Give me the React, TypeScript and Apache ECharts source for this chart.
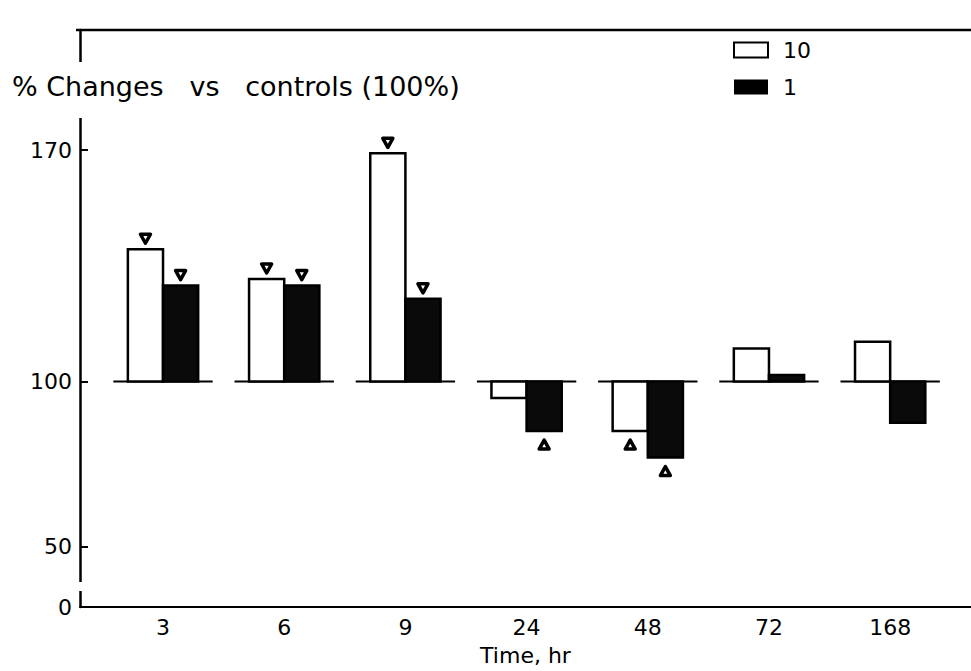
import React, { useEffect, useRef } from 'react';
import * as echarts from 'echarts';

// ---- data ----
const categories = ['3', '6', '9', '24', '48', '72', '168'];
const dose10 = [140, 131, 169, 95, 85, 110, 112];
const dose1 = [129, 129, 125, 85, 77, 102, 87.5];
const sig10 = [1, 1, 1, 0, 1, 0, 0];
const sig1 = [1, 1, 1, 1, 1, 0, 0];
const yTickValues = [50, 100, 170];
const yBreakLabel = '0';
const BASE = 100;

// ---- layout ----
const W = 971;
const H = 671;
const GL = 80;
const GT = 30;
const GB = 55;
const X_MIN = -0.685;
const X_MAX = 6.667;
const Y_MIN = 31.8;
const Y_MAX = 206.3;
const FONT = 'DejaVu Sans';

function barRenderer(side: number, fill: string) {
  return (params: any, api: any) => {
    const i = api.value(0);
    const v = api.value(1);
    const m = api.value(2);
    const band = api.size([1, 0])[0];
    const w = band * 0.29;
    const p0 = api.coord([i, BASE]);
    const p1 = api.coord([i, v]);
    const cx = p0[0] + (side * w) / 2;
    const y0 = Math.min(p0[1], p1[1]);
    const h = Math.abs(p1[1] - p0[1]);
    const children: any[] = [
      {
        type: 'rect',
        shape: { x: cx - w / 2, y: y0, width: w, height: h },
        style: { fill, stroke: '#000', lineWidth: 2.5 },
      },
    ];
    if (m) {
      const up = v < BASE;
      const s = 5;
      const ty = up ? p1[1] + 14 : p1[1] - 11;
      const pts = up
        ? [[cx - s, ty + 4], [cx + s, ty + 4], [cx, ty - 5]]
        : [[cx - s, ty - 4], [cx + s, ty - 4], [cx, ty + 5]];
      children.push({
        type: 'polygon',
        shape: { points: pts },
        style: { fill: '#fff', stroke: '#000', lineWidth: 3.5, lineJoin: 'round' },
      });
    }
    return { type: 'group', children };
  };
}

function baseRenderer(params: any, api: any) {
  const i = api.value(0);
  const band = api.size([1, 0])[0];
  const p = api.coord([i, BASE]);
  return {
    type: 'line',
    shape: { x1: p[0] - band * 0.41, y1: p[1], x2: p[0] + band * 0.41, y2: p[1] },
    style: { stroke: '#000', lineWidth: 2 },
  };
}

export default function App() {
  const ref = useRef<HTMLDivElement>(null);
  useEffect(() => {
    if (!ref.current) return;
    const chart = echarts.init(ref.current, null, { renderer: 'svg' });
    const idx = categories.map((_, i) => i);
    const axisY = H - GB;
    chart.setOption({
      animation: false,
      backgroundColor: '#fff',
      textStyle: { fontFamily: FONT, color: '#000' },
      grid: { left: GL, top: GT, right: 0, bottom: GB, containLabel: false },
      legend: {
        orient: 'vertical',
        left: 728,
        top: 34,
        itemWidth: 34,
        itemHeight: 15,
        itemGap: 15,
        textStyle: { fontSize: 22, color: '#000', fontFamily: FONT, padding: [0, 0, 0, 10] },
        data: [
          { name: '10', icon: 'rect', itemStyle: { color: '#fff', borderColor: '#000', borderWidth: 2 } },
          { name: '1', icon: 'rect', itemStyle: { color: '#000', borderColor: '#000', borderWidth: 0 } },
        ],
      },
      xAxis: {
        type: 'value',
        min: X_MIN,
        max: X_MAX,
        axisLine: { show: true, onZero: false, lineStyle: { color: '#000', width: 2 } },
        axisTick: { show: false },
        splitLine: { show: false },
        axisLabel: {
          customValues: idx,
          formatter: (v: number) => categories[Math.round(v)] ?? '',
          fontSize: 22,
          color: '#000',
          fontFamily: FONT,
          margin: 9,
        },
        name: 'Time, hr',
        nameLocation: 'middle',
        nameGap: 37,
        nameTextStyle: { fontSize: 22, color: '#000', fontFamily: FONT },
      },
      yAxis: {
        type: 'value',
        min: Y_MIN,
        max: Y_MAX,
        axisLine: { show: true, onZero: false, lineStyle: { color: '#000', width: 2.5 } },
        axisTick: { show: true, inside: true, length: 8, customValues: yTickValues, lineStyle: { color: '#000', width: 2 } },
        splitLine: { show: false },
        axisLabel: {
          customValues: [Y_MIN, ...yTickValues],
          formatter: (v: number) => (v < yTickValues[0] ? yBreakLabel : String(v)),
          fontSize: 22,
          color: '#000',
          fontFamily: FONT,
          margin: 8,
          showMinLabel: true,
        },
      },
      graphic: [
        {
          type: 'line',
          z: 50,
          shape: { x1: GL - 4, y1: GT, x2: W, y2: GT },
          style: { stroke: '#000', lineWidth: 2.5 },
        },
        {
          type: 'rect',
          z: 50,
          shape: { x: GL - 6, y: 62, width: 12, height: 56 },
          style: { fill: '#fff' },
        },
        {
          type: 'rect',
          z: 50,
          shape: { x: GL - 6, y: axisY - 34, width: 12, height: 9 },
          style: { fill: '#fff' },
        },
        {
          type: 'text',
          z: 60,
          left: 12,
          top: 73,
          style: { text: '% Changes   vs   controls (100%)', font: `27px "${FONT}"`, fill: '#000' },
        },
      ],
      series: [
        {
          name: 'base',
          type: 'custom',
          z: 1,
          renderItem: baseRenderer,
          encode: { x: 0, y: 1 },
          data: idx.map((i) => [i, BASE]),
          silent: true,
        },
        {
          name: '10',
          type: 'custom',
          z: 2,
          itemStyle: { color: '#fff', borderColor: '#000' },
          renderItem: barRenderer(-1, '#fff'),
          encode: { x: 0, y: 1 },
          data: idx.map((i) => [i, dose10[i], sig10[i]]),
        },
        {
          name: '1',
          type: 'custom',
          z: 2,
          itemStyle: { color: '#000' },
          renderItem: barRenderer(1, '#0a0a0a'),
          encode: { x: 0, y: 1 },
          data: idx.map((i) => [i, dose1[i], sig1[i]]),
        },
      ],
    });
    return () => chart.dispose();
  }, []);
  return <div ref={ref} style={{ position: 'fixed', left: 0, top: 0, width: W, height: H }} />;
}
